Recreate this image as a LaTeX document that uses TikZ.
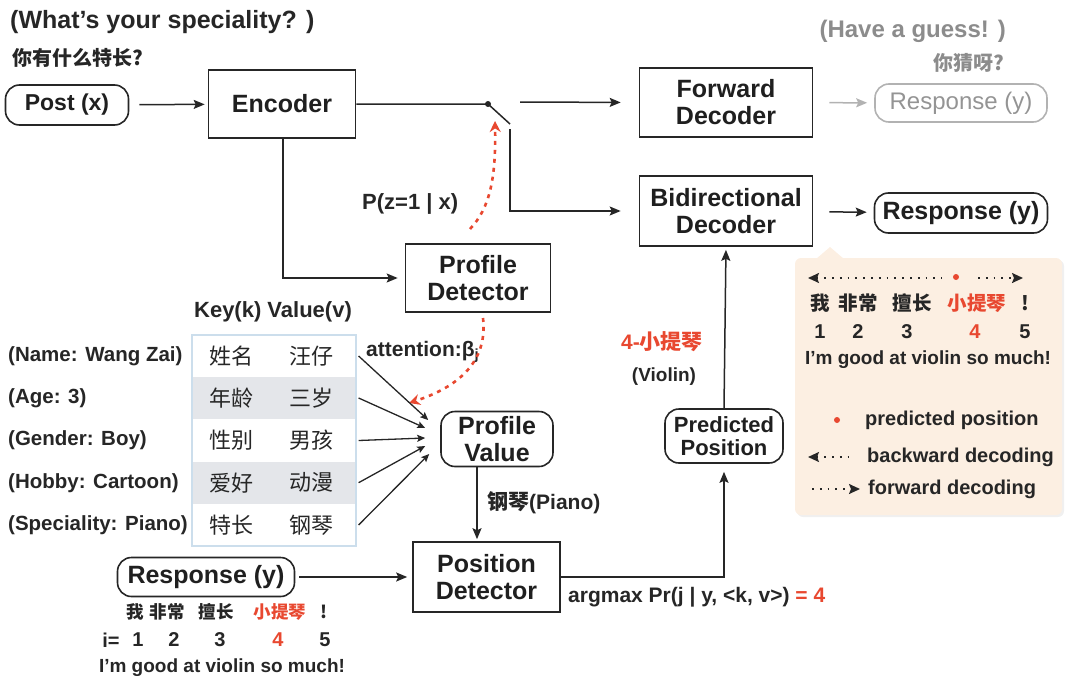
\documentclass[tikz,border=0pt]{standalone}
\usepackage{fontspec}
\setmainfont{Liberation Sans}
\newfontfamily\cjk{Noto Sans CJK SC}
\usetikzlibrary{arrows.meta,calc}
\definecolor{myred}{RGB}{232,72,48}
\definecolor{peach}{RGB}{252,239,226}
\definecolor{rowgray}{RGB}{228,230,234}
\definecolor{tblue}{RGB}{204,222,236}
\newcommand{\fsz}[2]{\fontsize{#1}{#2}\selectfont}
\tikzset{
 box/.style={draw=black!85, line width=1.6pt, align=center, inner sep=0pt, text=black!88, font=\fsz{25}{27}\bfseries},
 rbox/.style={box, rounded corners=14pt},
 lab/.style={inner sep=0pt, text=black!85, font=\fsz{21}{23}\bfseries},
 side/.style={inner sep=0pt, anchor=west, text=black!85, font=\fsz{20.5}{22}\bfseries},
 cj/.style={inner sep=0pt, text=black!85, font=\fsz{19.5}{21}\cjk\bfseries},
 lcj/.style={inner sep=0pt, text=black!85, font=\fsz{17.5}{19}\cjk\bfseries},
 tcj/.style={inner sep=0pt, text=black!85, font=\fsz{22}{24}\cjk},
 num/.style={inner sep=0pt, text=black!85, font=\fsz{20}{22}\bfseries},
 arr/.style={line width=1.5pt, draw=black!85, -{Stealth[length=11pt,width=9pt,inset=2pt]}},
 sarr/.style={line width=1.3pt, draw=black!85, -{Stealth[length=8pt,width=7pt,inset=1.5pt]}},
 ln/.style={line width=1.5pt, draw=black!85},
 reddash/.style={myred, line width=2.6pt, dash pattern=on 4pt off 5pt, -{Stealth[length=11pt,width=11pt]}},
 dotl/.style={line width=1.8pt, draw=black!85, dash pattern=on 1.8pt off 6pt},
}
\begin{document}
\begin{tikzpicture}[x=1pt,y=-1pt]
\useasboundingbox (0,0) rectangle (1076,696);

% --- top left question
\node[lab, anchor=west, font=\fsz{25}{27}\bfseries] (q) at (10,22) {(What’s your speciality? )};
\node[cj, anchor=west, font=\fsz{20}{22}\cjk\bfseries] (qc) at (12,58) {你有什么特长?};

% --- top row
\node[rbox, minimum width=123pt, minimum height=40pt, font=\fsz{23}{25}\bfseries] (post) at (67,105) {Post (x)};
\node[box, minimum width=147pt, minimum height=68pt] (enc) at (282,104) {Encoder};
\draw[arr, shorten <=10pt, shorten >=3pt] (post) -- (enc);

\node[box, minimum width=173pt, minimum height=69pt] (fwd) at (726,102.5) {Forward\\Decoder};
\node[box, minimum width=173pt, minimum height=70pt] (bid) at (726,211) {Bidirectional\\Decoder};
\node[rbox, draw=black!30, text=black!42, font=\fsz{24}{26}, minimum width=172pt, minimum height=38pt] (rg) at (961,103) {Response (y)};
\node[rbox, minimum width=173pt, minimum height=40pt] (rb) at (961,213) {Response (y)};
\node[lab, anchor=east, text=black!45, font=\fsz{24}{26}\bfseries] (g1) at (1006,31) {(Have a guess! )};
\node[cj, anchor=east, text=black!45, font=\fsz{20}{22}\cjk\bfseries] (g2) at (1004,63) {你猜呀?};
\draw[arr, draw=black!30, shorten <=16pt, shorten >=7pt] (fwd) -- (rg);
\draw[arr, shorten <=16pt, shorten >=7pt] (bid) -- (rb);

% --- switch
\coordinate (sw) at (488,104);
\coordinate (swb) at (510,124);
\coordinate (swc) at (510,129);
\coordinate (fwdin) at (520,102);
\draw[ln] (enc.east) -- (sw) -- (swb);
\fill[black!85] (sw) circle (3pt);
\draw[arr, shorten >=18pt] (swc) |- (bid.west);
\draw[arr, shorten >=18pt] (fwdin) -- (fwd.west);

% --- profile detector
\node[box, minimum width=145pt, minimum height=68pt] (pd) at (478,278) {Profile\\Detector};
\draw[arr, shorten >=7pt] ([xshift=1pt]enc.south) |- (pd.west);
\node[lab, anchor=west, font=\fsz{22}{24}\bfseries] (pz) at (362,204) {P(z=1 | x)};
\coordinate (pzs) at (470,229);
\coordinate (pze) at (495,121);
\draw[reddash] (pzs) .. controls (490,208) and (496,178) .. (pze);

% --- attention
\node[lab, anchor=west] (att) at (366,352) {attention:β\textsubscript{j}};
\coordinate (ats) at (483,318);
\coordinate (ate) at (409,403);
\draw[reddash] (ats) .. controls (488,362) and (458,387) .. (ate);

% --- table
\node[lab, font=\fsz{22}{24}\bfseries] (hdr) at (273,312) {Key(k) Value(v)};
\fill[rowgray] (193,377.2) rectangle (355,419.4);
\fill[rowgray] (193,461.6) rectangle (355,503.8);
\node[draw=tblue, line width=1.2pt, minimum width=164pt, minimum height=211pt, inner sep=0pt] (tab) at (274,440.5) {};
\node[tcj] (k1) at (231,356) {姓名};   \node[tcj] (v1) at (311,356) {汪仔};
\node[tcj] (k2) at (231,398) {年龄};   \node[tcj] (v2) at (311,398) {三岁};
\node[tcj] (k3) at (231,440.5) {性别}; \node[tcj] (v3) at (311,440.5) {男孩};
\node[tcj] (k4) at (231,482.7) {爱好}; \node[tcj] (v4) at (311,482.7) {动漫};
\node[tcj] (k5) at (231,525) {特长};   \node[tcj] (v5) at (311,525) {钢琴};
\node[side] (l1) at (8,356) {(Name: Wang Zai)};
\node[side] (l2) at (8,398) {(Age: 3)};
\node[side] (l3) at (8,440.5) {(Gender: Boy)};
\node[side] (l4) at (8,482.7) {(Hobby: Cartoon)};
\node[side] (l5) at (8,525) {(Speciality: Piano)};

% --- profile value
\node[rbox, minimum width=112pt, minimum height=55pt] (pv) at (497,439) {Profile\\Value};
\draw[sarr] ([xshift=2pt]tab.east |- v1) -- ($(pv.west)+(-12,-19)$);
\draw[sarr] ([xshift=2pt]tab.east |- v2) -- ($(pv.west)+(-15,-11)$);
\draw[sarr] ([xshift=2pt]tab.east |- v3) -- ($(pv.west)+(-15,-1)$);
\draw[sarr] ([xshift=2pt]tab.east |- v4) -- ($(pv.west)+(-15,7)$);
\draw[sarr] ([xshift=2pt]tab.east |- v5) -- ($(pv.west)+(-11,15)$);

% --- position detector
\node[box, minimum width=147pt, minimum height=70pt] (posd) at (486.5,577) {Position\\Detector};
\path ($(pv.south)+(-20,0)$) coordinate (pvs);
\draw[arr, shorten >=2pt] (pvs) -- (pvs |- posd.north);
\node[lab, anchor=west] (pia) at (487,503) {{\cjk 钢琴}(Piano)};

\node[rbox, minimum width=177pt, minimum height=39pt] (rl) at (206,577) {Response (y)};
\draw[arr, shorten <=4pt, shorten >=5pt] (rl) -- (posd);

\node[lcj] (s1) at (135,612) {我};
\node[lcj] (s2) at (167,612) {非常};
\node[lcj] (s3) at (216,612) {擅长};
\node[lcj, text=myred] (s4) at (280,612) {小提琴};
\node[lcj] (s5) at (324,612) {!};
\node[num] (n0) at (111,640) {i=};
\node[num] (n1) at (138,640) {1};
\node[num] (n2) at (174,640) {2};
\node[num] (n3) at (220,640) {3};
\node[num, text=myred] (n4) at (278,640) {4};
\node[num] (n5) at (325,640) {5};
\node[num, font=\fsz{19}{21}\bfseries] (en1) at (222,668) {I’m good at violin so much!};

% --- predicted position
\node[rbox, minimum width=118pt, minimum height=54pt, font=\fsz{22}{23}\bfseries] (pp) at (724,436) {Predicted\\Position};
\draw[arr, shorten >=8pt] (posd.east) -| (pp.south);
\draw[arr, shorten >=3pt] (pp.north) -- (bid.south);
\node[lab, text=myred] (vio1) at (662,342) {4-{\cjk\bfseries 小提琴}};
\node[lab, font=\fsz{19}{21}\bfseries] (vio2) at (664,377) {(Violin)};
\node[lab, anchor=west] (amx) at (568,597) {argmax Pr(j | y, <k, v>) \textcolor{myred}{= 4}};

% --- callout
\fill[black!6, rounded corners=6pt] (797,260) rectangle (1064,517);
\fill[peach, rounded corners=6pt] (795,258) rectangle (1062,515);
\fill[peach] (816,259) -- (830,247) -- (844,259) -- cycle;
\coordinate (ta1) at (808,278);
\coordinate (ta2) at (942,278);
\coordinate (ta3) at (978,278);
\coordinate (ta4) at (1023,278);
\draw[dotl, {Stealth[length=11pt,width=10pt,inset=2pt]}-] (ta1) -- (ta2);
\draw[dotl, -{Stealth[length=11pt,width=10pt,inset=2pt]}] (ta3) -- (ta4);
\fill[myred] (956,277) circle (3pt);
\node[cj] (c1) at (820,303) {我};
\node[cj] (c2) at (858,303) {非常};
\node[cj] (c3) at (912,303) {擅长};
\node[cj, text=myred] (c4) at (977,303) {小提琴};
\node[cj] (c5) at (1025,303) {!};
\node[num] (m1) at (820,332) {1};
\node[num] (m2) at (858,332) {2};
\node[num] (m3) at (907,332) {3};
\node[num, text=myred] (m4) at (975,332) {4};
\node[num] (m5) at (1025,332) {5};
\node[num, font=\fsz{19}{21}\bfseries] (en2) at (928,360) {I’m good at violin so much!};
\fill[myred] (837,420) circle (3pt);
\node[side, font=\fsz{20}{22}\bfseries] (lg1) at (865,420) {predicted position};
\coordinate (lb1) at (808,457);
\coordinate (lb2) at (850,457);
\draw[dotl, {Stealth[length=11pt,width=10pt,inset=2pt]}-] (lb1) -- (lb2);
\node[side, font=\fsz{20}{22}\bfseries] (lg2) at (867,457) {backward decoding};
\coordinate (lf1) at (812,489);
\coordinate (lf2) at (860,489);
\draw[dotl, -{Stealth[length=11pt,width=10pt,inset=2pt]}] (lf1) -- (lf2);
\node[side, font=\fsz{20}{22}\bfseries] (lg3) at (868,489) {forward decoding};
\end{tikzpicture}
\end{document}
